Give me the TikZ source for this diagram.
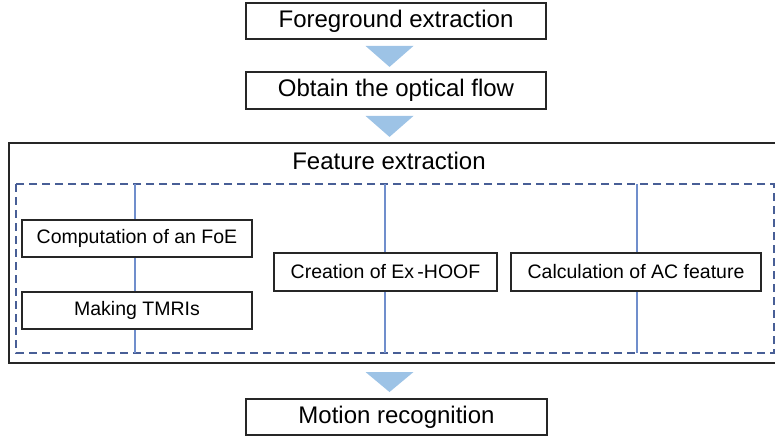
\documentclass[tikz,border=0pt]{standalone}
\usepackage{fontspec}
\setmainfont{Liberation Sans}
\usepackage{tikz}
\usetikzlibrary{positioning,calc}

\definecolor{boxline}{RGB}{38,38,38}
\definecolor{tipblue}{RGB}{157,195,230}
\definecolor{dashblue}{RGB}{72,94,150}
\definecolor{stemblue}{RGB}{112,142,204}

\tikzset{
  stage/.style={draw=boxline, line width=1.8pt, fill=white, inner sep=0pt,
    minimum width=300pt, minimum height=36pt, font=\fontsize{24}{28}\selectfont},
  substage/.style={draw=boxline, line width=1.6pt, fill=white, inner sep=0pt,
    minimum height=37pt, font=\fontsize{19.5}{23}\selectfont},
  flowtip/.style={fill=tipblue},
  stem/.style={draw=stemblue, line width=1.4pt},
  groupline/.style={draw=dashblue, line width=1.8pt, dash pattern=on 8pt off 5pt}
}

\begin{document}
\begin{tikzpicture}[x=1pt, y=-1pt]
  \useasboundingbox (0,0) rectangle (775,439);
  \clip (0,0) rectangle (775,439);

  % Define nodes
  \node[stage] (fg) at (396,21) {Foreground extraction};
  \node[stage, minimum height=37pt] (flow) at (396,90.5) {Obtain the optical flow};
  \node[stage, minimum width=301pt] (motion) at (396.5,417) {Motion recognition};

  % Feature extraction group
  \draw[boxline, line width=1.8pt] (9,143) coordinate (fe-nw) rectangle (800,363) coordinate (fe-se);
  \node[font=\fontsize{24}{28}\selectfont] (fetitle) at (389,161) {Feature extraction};
  \draw[groupline] (16,184) coordinate (grp-nw) rectangle (774,353) coordinate (grp-se);

  % Columns inside the group
  \coordinate (col1) at (135,0);
  \coordinate (col2) at (385,0);
  \coordinate (col3) at (637,0);
  \foreach \c in {col1,col2,col3}
    \draw[stem] (\c |- grp-nw) -- (\c |- grp-se);

  \node[substage, minimum width=230pt] (foe) at (137,238.5) {Computation of an FoE};
  \node[substage, minimum width=230pt] (tmri) at (137,310.5) {Making TMRIs};
  \node[substage, minimum width=223pt, minimum height=38pt] (hoof) at (385.5,272) {Creation of Ex\,-HOOF};
  \node[substage, minimum width=250pt, minimum height=38pt] (ac) at (636,272) {Calculation of AC feature};

  % Connect the stages
  \coordinate (axis) at (389.5,0);
  \fill[flowtip] ($(axis |- fg.south)+(-24,6)$) -- ++(48,0) -- ++(-24,21) -- cycle;
  \fill[flowtip] ($(axis |- flow.south)+(-24,6)$) -- ++(48,0) -- ++(-24,21) -- cycle;
  \fill[flowtip] ($(axis |- fe-se)+(-24,9)$) -- ++(48,0) -- ++(-24,20) -- cycle;

\end{tikzpicture}
\end{document}
